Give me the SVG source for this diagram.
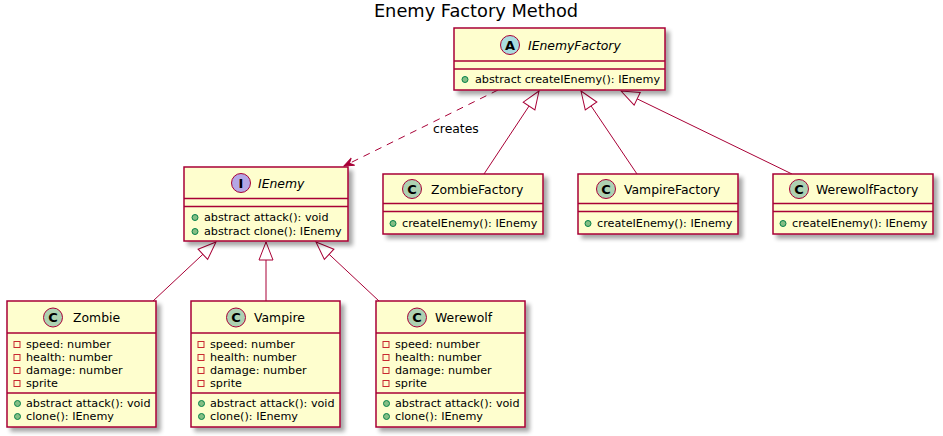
<svg xmlns="http://www.w3.org/2000/svg" width="943" height="436" viewBox="0 0 943 436">
<style>
text{font-family:"DejaVu Sans","Liberation Sans",sans-serif;fill:#000}
.title{font-size:17.8px}
.name{font-size:12.4px}
.abs{font-style:italic}
.mem{font-size:11.2px}
.lbl{font-size:12.4px}
.box{fill:#FEFECE;stroke:#A80036;stroke-width:1.5;filter:url(#sh)}
.sep{stroke:#A80036;stroke-width:1.5}
.cc{fill:#ADD1B2;stroke:#A80036;stroke-width:1}
.ca{fill:#A9DCDF;stroke:#A80036;stroke-width:1}
.ci{fill:#B4A7E5;stroke:#A80036;stroke-width:1}
.ltr{font-size:13px;font-weight:bold;text-anchor:middle}
.pub{fill:#84BE84;stroke:#038048;stroke-width:1}
.priv{fill:none;stroke:#C82930;stroke-width:1}
.edge{fill:none;stroke:#A80036;stroke-width:1}
.dash{stroke-dasharray:7,6}
</style>
<defs>
<filter id="sh" x="-10%" y="-10%" width="130%" height="130%">
<feGaussianBlur in="SourceAlpha" stdDeviation="2"/>
<feOffset dx="4" dy="4" result="o"/>
<feComponentTransfer><feFuncA type="linear" slope="0.35"/></feComponentTransfer>
<feMerge><feMergeNode/><feMergeNode in="SourceGraphic"/></feMerge>
</filter>
<marker id="dep" viewBox="-12 -6 13 12" refX="0" refY="0" markerWidth="13" markerHeight="12" orient="auto" markerUnits="userSpaceOnUse">
<path d="M0,0 L-10,-4 L-6,0 L-10,4 Z" fill="#A80036" stroke="#A80036" stroke-width="1"/>
</marker>
<marker id="ext" viewBox="-20 -9 22 18" refX="0" refY="0" markerWidth="22" markerHeight="18" orient="auto" markerUnits="userSpaceOnUse">
<path d="M0,0 L-18,-7 L-18,7 Z" fill="#FFFFFF" stroke="#A80036" stroke-width="1"/>
</marker>
</defs>

<text class="title" x="476" y="17" text-anchor="middle">Enemy Factory Method</text>

<g id="connectors">
<path class="edge dash" d="M498,90 L344,166" marker-end="url(#dep)"/>
<text class="lbl" x="433" y="133">creates</text>
<path class="edge" d="M484,174 L539,91" marker-end="url(#ext)"/>
<path class="edge" d="M637,174 L581,91" marker-end="url(#ext)"/>
<path class="edge" d="M792,174 L621,91" marker-end="url(#ext)"/>
<path class="edge" d="M153,301 L216,242" marker-end="url(#ext)"/>
<path class="edge" d="M266,301 L266,242" marker-end="url(#ext)"/>
<path class="edge" d="M379,301 L316,242" marker-end="url(#ext)"/>
</g>

<g id="IEnemyFactory">
<rect class="box" x="454" y="28" width="211" height="62"/>
<line class="sep" x1="454" y1="61" x2="665" y2="61"/>
<line class="sep" x1="454" y1="69" x2="665" y2="69"/>
<circle class="ca" cx="510" cy="45" r="9.5"/>
<text class="ltr" x="510" y="49.5">A</text>
<text class="name abs" x="528" y="49.5">IEnemyFactory</text>
<circle class="pub" cx="465" cy="79.5" r="3"/>
<text class="mem" x="475" y="83">abstract createIEnemy(): IEnemy</text>
</g>

<g id="IEnemy">
<rect class="box" x="184" y="167" width="164" height="74"/>
<line class="sep" x1="184" y1="198.5" x2="348" y2="198.5"/>
<line class="sep" x1="184" y1="206.5" x2="348" y2="206.5"/>
<circle class="ci" cx="241" cy="183" r="9.5"/>
<text class="ltr" x="241" y="187.5">I</text>
<text class="name abs" x="258" y="187.5">IEnemy</text>
<circle class="pub" cx="195" cy="217.5" r="3"/>
<text class="mem" x="204" y="221">abstract attack(): void</text>
<circle class="pub" cx="195" cy="231.5" r="3"/>
<text class="mem" x="204" y="235">abstract clone(): IEnemy</text>
</g>

<g id="ZombieFactory">
<rect class="box" x="383" y="174" width="160" height="60"/>
<line class="sep" x1="383" y1="203.5" x2="543" y2="203.5"/>
<line class="sep" x1="383" y1="211.5" x2="543" y2="211.5"/>
<circle class="cc" cx="412" cy="189" r="9.5"/>
<text class="ltr" x="412" y="193.5">C</text>
<text class="name" x="431" y="193.5">ZombieFactory</text>
<circle class="pub" cx="393" cy="223.5" r="3"/>
<text class="mem" x="402" y="227">createIEnemy(): IEnemy</text>
</g>

<g id="VampireFactory">
<rect class="box" x="578" y="174" width="160" height="60"/>
<line class="sep" x1="578" y1="203.5" x2="738" y2="203.5"/>
<line class="sep" x1="578" y1="211.5" x2="738" y2="211.5"/>
<circle class="cc" cx="606" cy="189" r="9.5"/>
<text class="ltr" x="606" y="193.5">C</text>
<text class="name" x="624" y="193.5">VampireFactory</text>
<circle class="pub" cx="588" cy="223.5" r="3"/>
<text class="mem" x="597" y="227">createIEnemy(): IEnemy</text>
</g>

<g id="WerewolfFactory">
<rect class="box" x="773" y="174" width="160" height="60"/>
<line class="sep" x1="773" y1="203.5" x2="933" y2="203.5"/>
<line class="sep" x1="773" y1="211.5" x2="933" y2="211.5"/>
<circle class="cc" cx="799" cy="189" r="9.5"/>
<text class="ltr" x="799" y="193.5">C</text>
<text class="name" x="816" y="193.5">WerewolfFactory</text>
<circle class="pub" cx="783" cy="223.5" r="3"/>
<text class="mem" x="792" y="227">createIEnemy(): IEnemy</text>
</g>

<g id="Zombie">
<rect class="box" x="7" y="301" width="149" height="126"/>
<line class="sep" x1="7" y1="333" x2="156" y2="333"/>
<line class="sep" x1="7" y1="393" x2="156" y2="393"/>
<circle class="cc" cx="53" cy="317.5" r="9.5"/>
<text class="ltr" x="53" y="322">C</text>
<text class="name" x="73" y="322">Zombie</text>
<rect class="priv" x="14" y="341.5" width="6" height="6"/>
<text class="mem" x="26" y="348">speed: number</text>
<rect class="priv" x="14" y="354.5" width="6" height="6"/>
<text class="mem" x="26" y="361">health: number</text>
<rect class="priv" x="14" y="367.5" width="6" height="6"/>
<text class="mem" x="26" y="374">damage: number</text>
<rect class="priv" x="14" y="380.5" width="6" height="6"/>
<text class="mem" x="26" y="387">sprite</text>
<circle class="pub" cx="17.5" cy="403.5" r="3"/>
<text class="mem" x="26" y="407">abstract attack(): void</text>
<circle class="pub" cx="17.5" cy="416.5" r="3"/>
<text class="mem" x="26" y="420">clone(): IEnemy</text>
</g>

<g id="Vampire">
<rect class="box" x="191" y="301" width="149" height="126"/>
<line class="sep" x1="191" y1="333" x2="340" y2="333"/>
<line class="sep" x1="191" y1="393" x2="340" y2="393"/>
<circle class="cc" cx="236" cy="317.5" r="9.5"/>
<text class="ltr" x="236" y="322">C</text>
<text class="name" x="254" y="322">Vampire</text>
<rect class="priv" x="198" y="341.5" width="6" height="6"/>
<text class="mem" x="210" y="348">speed: number</text>
<rect class="priv" x="198" y="354.5" width="6" height="6"/>
<text class="mem" x="210" y="361">health: number</text>
<rect class="priv" x="198" y="367.5" width="6" height="6"/>
<text class="mem" x="210" y="374">damage: number</text>
<rect class="priv" x="198" y="380.5" width="6" height="6"/>
<text class="mem" x="210" y="387">sprite</text>
<circle class="pub" cx="201.5" cy="403.5" r="3"/>
<text class="mem" x="210" y="407">abstract attack(): void</text>
<circle class="pub" cx="201.5" cy="416.5" r="3"/>
<text class="mem" x="210" y="420">clone(): IEnemy</text>
</g>

<g id="Werewolf">
<rect class="box" x="376" y="301" width="149" height="126"/>
<line class="sep" x1="376" y1="333" x2="525" y2="333"/>
<line class="sep" x1="376" y1="393" x2="525" y2="393"/>
<circle class="cc" cx="417" cy="317.5" r="9.5"/>
<text class="ltr" x="417" y="322">C</text>
<text class="name" x="435" y="322">Werewolf</text>
<rect class="priv" x="383" y="341.5" width="6" height="6"/>
<text class="mem" x="395" y="348">speed: number</text>
<rect class="priv" x="383" y="354.5" width="6" height="6"/>
<text class="mem" x="395" y="361">health: number</text>
<rect class="priv" x="383" y="367.5" width="6" height="6"/>
<text class="mem" x="395" y="374">damage: number</text>
<rect class="priv" x="383" y="380.5" width="6" height="6"/>
<text class="mem" x="395" y="387">sprite</text>
<circle class="pub" cx="386.5" cy="403.5" r="3"/>
<text class="mem" x="395" y="407">abstract attack(): void</text>
<circle class="pub" cx="386.5" cy="416.5" r="3"/>
<text class="mem" x="395" y="420">clone(): IEnemy</text>
</g>
</svg>
